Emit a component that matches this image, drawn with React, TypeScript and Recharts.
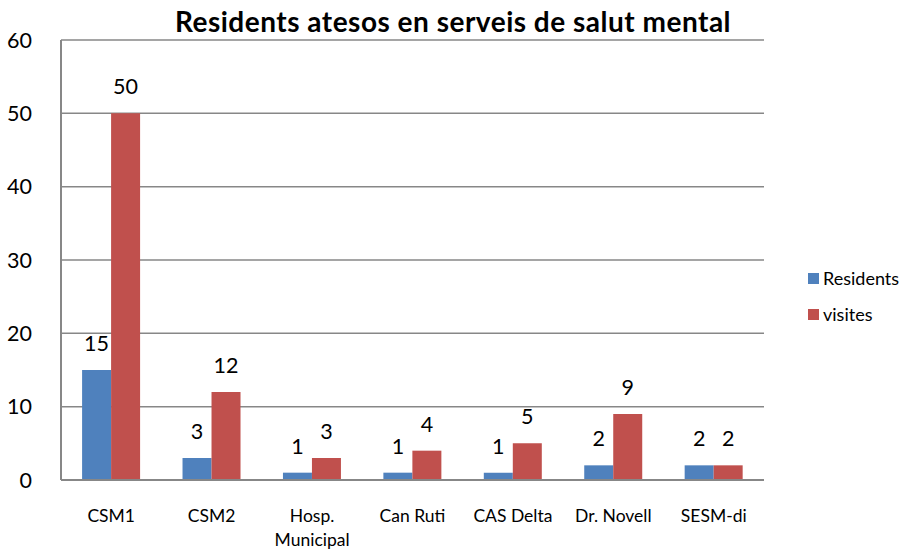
import React from "react";
import { BarChart, Bar, XAxis, YAxis, CartesianGrid, LabelList } from "recharts";

const categories = ["CSM1", "CSM2", "Hosp.\nMunicipal", "Can Ruti", "CAS Delta", "Dr. Novell", "SESM-di"];
const residents = [15, 3, 1, 1, 1, 2, 2];
const visites = [50, 12, 3, 4, 5, 9, 2];
const yTicks = [0, 10, 20, 30, 40, 50, 60];

const data = categories.map((name, i) => ({ name, residents: residents[i], visites: visites[i] }));

const FONT = "Lato, 'Open Sans', sans-serif";

function CategoryTick(props: any) {
  const { x, y, payload } = props;
  const lines = String(payload.value).split("\n");
  return (
    <g transform={`translate(${x},${y})`}>
      {lines.map((line, i) => (
        <text
          key={i}
          x={0}
          y={i * 24}
          dy={34}
          textAnchor="middle"
          fill="#000"
          fontSize={17.5}
          fontFamily={FONT}
        >
          {line}
        </text>
      ))}
    </g>
  );
}

export default function App() {
  return (
    <div style={{ position: "absolute", left: 0, top: 0, width: 906, height: 553, background: "#fff", fontFamily: FONT }}>
      <div
        style={{
          position: "absolute",
          top: 4,
          left: 0,
          width: 906,
          textAlign: "center",
          fontSize: 28,
          letterSpacing: 0.5,
          fontWeight: 700,
          color: "#000",
        }}
      >
        Residents atesos en serveis de salut mental
      </div>
      <BarChart
        width={906}
        height={553}
        data={data}
        margin={{ top: 40, right: 142, bottom: 43, left: 0 }}
        barCategoryGap="21%"
        barGap={0}
      >
        <CartesianGrid vertical={false} stroke="#878787" strokeWidth={1.5} />
        <XAxis
          dataKey="name"
          axisLine={{ stroke: "#878787", strokeWidth: 2 }}
          tickLine={false}
          interval={0}
          tick={<CategoryTick />}
        />
        <YAxis
          width={61}
          domain={[0, 60]}
          ticks={yTicks}
          axisLine={{ stroke: "#878787", strokeWidth: 2 }}
          tickLine={false}
          tickMargin={23}
          tick={{ fill: "#000", fontSize: 21.5, fontFamily: FONT }}
        />
        <Bar dataKey="residents" fill="#4F81BD" isAnimationActive={false}>
          <LabelList dataKey="residents" position="top" offset={19} fill="#000" fontSize={21.5} fontFamily={FONT} />
        </Bar>
        <Bar dataKey="visites" fill="#C0504D" isAnimationActive={false}>
          <LabelList dataKey="visites" position="top" offset={19} fill="#000" fontSize={21.5} fontFamily={FONT} />
        </Bar>
      </BarChart>
      <div style={{ position: "absolute", left: 808, top: 266, fontSize: 18, color: "#000" }}>
        <div style={{ display: "flex", alignItems: "center", height: 24 }}>
          <span style={{ width: 11, height: 11, background: "#4F81BD", marginRight: 4, display: "inline-block" }} />
          Residents
        </div>
        <div style={{ display: "flex", alignItems: "center", height: 24, marginTop: 12 }}>
          <span style={{ width: 11, height: 11, background: "#C0504D", marginRight: 4, display: "inline-block" }} />
          visites
        </div>
      </div>
    </div>
  );
}
